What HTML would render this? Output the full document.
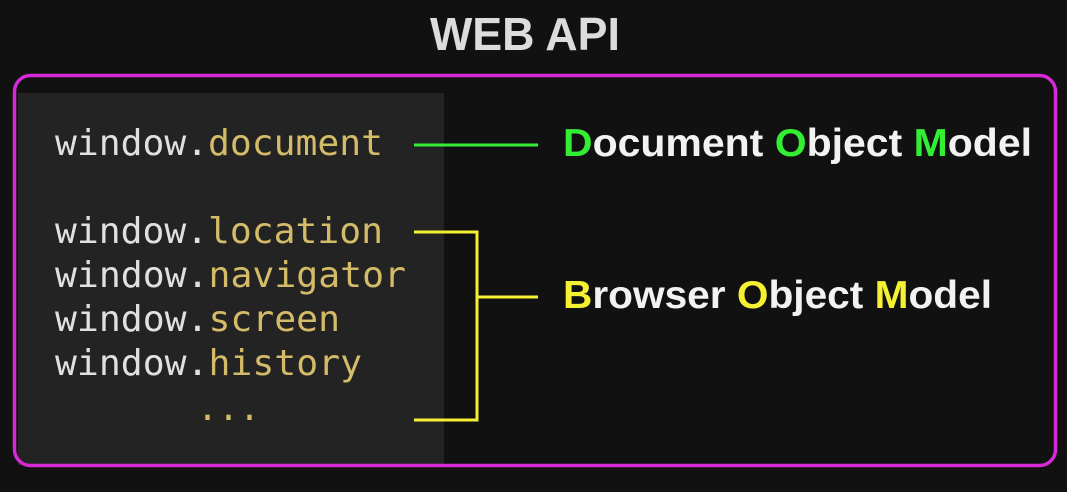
<!DOCTYPE html>
<html><head><meta charset="utf-8"><style>
html,body{margin:0;padding:0;background:#111;}
svg{display:block}
</style></head><body>
<svg width="1067" height="492" viewBox="0 0 1067 492" xmlns="http://www.w3.org/2000/svg">
<rect width="1067" height="492" fill="#111"/>
<text x="525" y="50" text-anchor="middle" font-family="Liberation Sans, sans-serif" font-weight="bold" font-size="46" fill="#dcdcdc" textLength="190" lengthAdjust="spacingAndGlyphs">WEB API</text>
<rect x="18" y="93" width="426" height="372" fill="#232323"/>
<rect x="14.5" y="75.5" width="1041" height="390" rx="16" fill="none" stroke="#d62ad6" stroke-width="3.5"/>
<g font-family="DejaVu Sans Mono, Liberation Mono, monospace" font-size="36">
<text x="55" y="155" textLength="328" lengthAdjust="spacingAndGlyphs"><tspan fill="#e0e0e0">window.</tspan><tspan fill="#d4bb68">document</tspan></text>
<text x="55" y="243" textLength="328" lengthAdjust="spacingAndGlyphs"><tspan fill="#e0e0e0">window.</tspan><tspan fill="#d4bb68">location</tspan></text>
<text x="55" y="287" textLength="351" lengthAdjust="spacingAndGlyphs"><tspan fill="#e0e0e0">window.</tspan><tspan fill="#d4bb68">navigator</tspan></text>
<text x="55" y="331" textLength="285" lengthAdjust="spacingAndGlyphs"><tspan fill="#e0e0e0">window.</tspan><tspan fill="#d4bb68">screen</tspan></text>
<text x="55" y="375" textLength="307" lengthAdjust="spacingAndGlyphs"><tspan fill="#e0e0e0">window.</tspan><tspan fill="#d4bb68">history</tspan></text>
<text x="197" y="420" fill="#d4bb68" textLength="63" lengthAdjust="spacingAndGlyphs">...</text>
</g>
<line x1="414" y1="145" x2="538" y2="145" stroke="#33ee33" stroke-width="3"/>
<polyline points="414,232 477,232 477,420 414,420" fill="none" stroke="#f5f032" stroke-width="3"/>
<line x1="477" y1="297" x2="538" y2="297" stroke="#f5f032" stroke-width="3"/>
<g font-family="Liberation Sans, sans-serif" font-weight="bold" font-size="39" fill="#f2f2f2">
<text x="563" y="156" textLength="469" lengthAdjust="spacingAndGlyphs"><tspan fill="#33ee33">D</tspan>ocument <tspan fill="#33ee33">O</tspan>bject <tspan fill="#33ee33">M</tspan>odel</text>
<text x="563" y="308" textLength="429" lengthAdjust="spacingAndGlyphs"><tspan fill="#f5f032">B</tspan>rowser <tspan fill="#f5f032">O</tspan>bject <tspan fill="#f5f032">M</tspan>odel</text>
</g>
</svg>
</body></html>
